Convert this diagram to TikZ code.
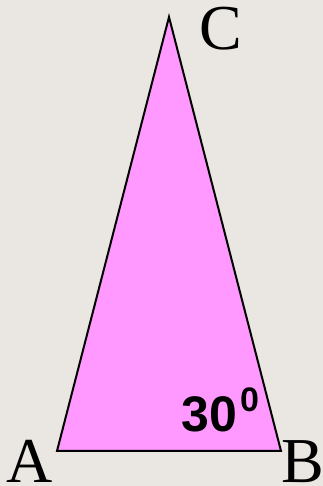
\documentclass[tikz,border=0pt]{standalone}
\usepackage{fontspec}
\setmainfont{Liberation Serif}
\setsansfont{Liberation Sans}
\definecolor{bg}{HTML}{EAE6E1}
\definecolor{tri}{HTML}{FF99FF}
\begin{document}
\begin{tikzpicture}[x=1pt,y=1pt,
  vlabel/.style={inner sep=0pt,anchor=base west,font=\fontsize{64}{64}\selectfont},
  anglabel/.style={inner sep=0pt,anchor=base west,font=\sffamily\bfseries\fontsize{50}{50}\selectfont},
  suplabel/.style={inner sep=0pt,anchor=base west,font=\sffamily\bfseries\fontsize{34}{34}\selectfont}]
\fill[bg] (0,0) rectangle (323,486);
\useasboundingbox (0,0) rectangle (323,486);
\coordinate (A) at (57,35);
\coordinate (B) at (281,35);
\coordinate (C) at (169,469);
\draw[fill=tri,line width=2pt,line join=miter] (A) -- (B) -- (C) -- cycle;
\node[vlabel] (la) at (6,4) {A};
\node[vlabel] (lb) at (281,4) {B};
\node[vlabel] (lc) at (199,436) {C};
\node[anglabel] (ang) at (181,54) {30};
\node[suplabel] (sup) at (240,74) {0};
\end{tikzpicture}
\end{document}
